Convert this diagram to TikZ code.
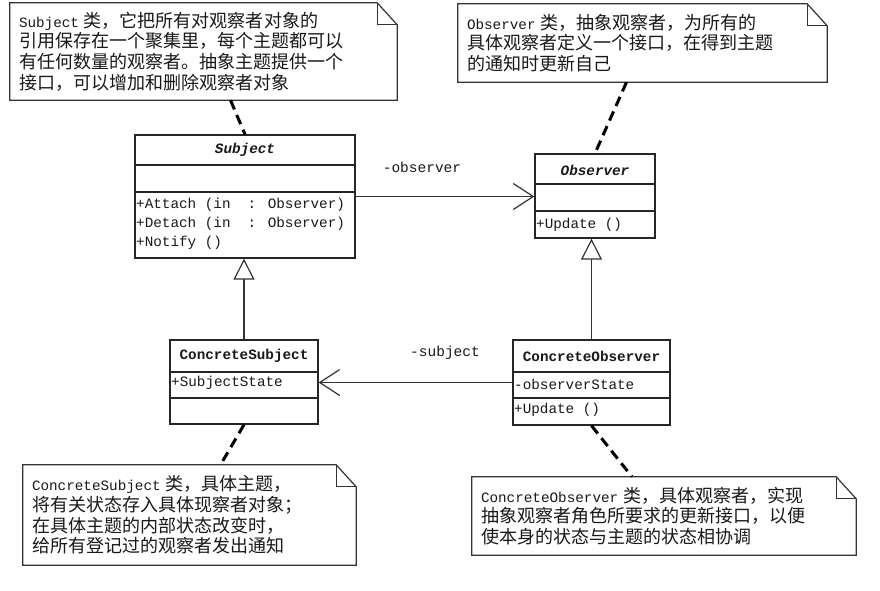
\documentclass[tikz,border=0pt]{standalone}
\usepackage{fontspec}
\setmainfont{Liberation Mono}
\newfontfamily\cjk{Noto Sans CJK SC}[Scale=1.26]
\usetikzlibrary{arrows.meta}
\newcommand{\zh}[1]{{\cjk #1}}
\begin{document}
\begin{tikzpicture}[x=1pt,y=-1pt,
  every node/.style={font=\fontsize{14.3}{20.7}\selectfont, inner sep=0pt, text=black!90},
  classbox/.style={draw=black!85, line width=1.3pt, rectangle, inner sep=0pt},
  divider/.style={draw=black!85, line width=1.3pt},
  notebox/.style={rectangle, inner xsep=9pt, inner ysep=0pt, align=left},
  noteline/.style={draw=black!80, line width=1.2pt, line join=miter},
  notelink/.style={draw=black, line width=3pt, dash pattern=on 10pt off 6pt},
  assoc/.style={draw=black!80, line width=1.2pt, -{Straight Barb[length=20pt,width=26pt,line width=1.2pt]}},
  inherit/.style={draw=black!80, line width=1.2pt, -{Triangle[open,length=21pt,width=21pt,line width=1.2pt,fill=white]}},
  oplist/.style={anchor=west, align=left, font=\fontsize{14.3}{19}\selectfont},
  lbl/.style={font=\fontsize{14.5}{17}\selectfont}
]
\useasboundingbox (0,0) rectangle (880,590);
\fill[white] (0,0) rectangle (880,590);

% ---------- notes ----------
\node[notebox, minimum height=97pt, text width=369pt] (n1) at (203.5,51.5)
 {Subject \zh{类，它把所有对观察者对象的}\\
  \zh{引用保存在一个聚集里，每个主题都可以}\\
  \zh{有任何数量的观察者。抽象主题提供一个}\\
  \zh{接口，可以增加和删除观察者对象}};
\node[notebox, minimum height=78pt, text width=351pt] (n2) at (642.5,43)
 {Observer \zh{类，抽象观察者，为所有的}\\
  \zh{具体观察者定义一个接口，在得到主题}\\
  \zh{的通知时更新自己}};
\node[notebox, minimum height=100pt, text width=315pt] (n3) at (189.5,515)
 {ConcreteSubject \zh{类，具体主题，}\\
  \zh{将有关状态存入具体现察者对象；}\\
  \zh{在具体主题的内部状态改变时，}\\
  \zh{给所有登记过的观察者发出通知}};
\node[notebox, minimum height=78pt, text width=366pt] (n4) at (664,516)
 {ConcreteObserver \zh{类，具体观察者，实现}\\
  \zh{抽象观察者角色所要求的更新接口，以便}\\
  \zh{使本身的状态与主题的状态相协调}};

\foreach \n in {n1,n2,n3,n4}{
  \draw[noteline] (\n.north west) -- ([xshift=-20pt]\n.north east) -- ([yshift=-22pt]\n.north east)
    -- (\n.south east) -- (\n.south west) -- cycle;
  \draw[noteline] ([xshift=-20pt]\n.north east) |- ([yshift=-22pt]\n.north east);
}

% ---------- classes ----------
\node[classbox, minimum width=220pt, minimum height=123pt] (subject) at (245,196.5) {};
\draw[divider] (subject.west |- 0,165) -- (subject.east |- 0,165);
\draw[divider] (subject.west |- 0,192) -- (subject.east |- 0,192);
\node (subjectname) at (245,150) {\textbf{\textit{Subject}}};
\node[oplist] (subjectops) at (136,224) {+Attach (in\ \ : Observer)\\+Detach (in\ \ : Observer)\\+Notify ()};

\node[classbox, minimum width=120pt, minimum height=84pt] (observer) at (595,196) {};
\draw[divider] (observer.west |- 0,184) -- (observer.east |- 0,184);
\draw[divider] (observer.west |- 0,211) -- (observer.east |- 0,211);
\node (observername) at (595,170) {\textbf{\textit{Observer}}};
\node[oplist] (observerops) at (536,225) {+Update ()};

\node[classbox, minimum width=148pt, minimum height=84pt] (csub) at (244,382) {};
\draw[divider] (csub.west |- 0,372) -- (csub.east |- 0,372);
\draw[divider] (csub.west |- 0,398) -- (csub.east |- 0,398);
\node (csubname) at (244,356) {\textbf{ConcreteSubject}};
\node[oplist] (csubattr) at (171,383) {+SubjectState};

\node[classbox, minimum width=157pt, minimum height=85pt] (cobs) at (591.5,382.5) {};
\draw[divider] (cobs.west |- 0,372) -- (cobs.east |- 0,372);
\draw[divider] (cobs.west |- 0,398) -- (cobs.east |- 0,398);
\node (cobsname) at (591.5,356) {\textbf{ConcreteObserver}};
\node[oplist] (cobsattr) at (514,384) {-observerState};
\node[oplist] (cobsops) at (514,410) {+Update ()};

% ---------- relations ----------
\draw[assoc] (subject.east) -- (subject.east -| observer.west);
\node[lbl] (obslabel) at (422,167) {-observer};
\draw[assoc] (cobs.west) -- (cobs.west -| csub.east);
\node[lbl] (sublabel) at (445,353) {-subject};

\draw[inherit] (csub.north) -- (csub.north |- subject.south);
\draw[inherit] (cobs.north) -- (cobs.north |- observer.south);

% ---------- note links ----------
\draw[notelink] ([xshift=27pt]n1.south) -- (subject.north);
\draw[notelink] ([xshift=-16pt]n2.south) -- (observer.north);
\draw[notelink] (csub.south) -- ([xshift=31pt]n3.north);
\draw[notelink] (cobs.south) -- ([xshift=-32pt]n4.north);
\end{tikzpicture}
\end{document}
